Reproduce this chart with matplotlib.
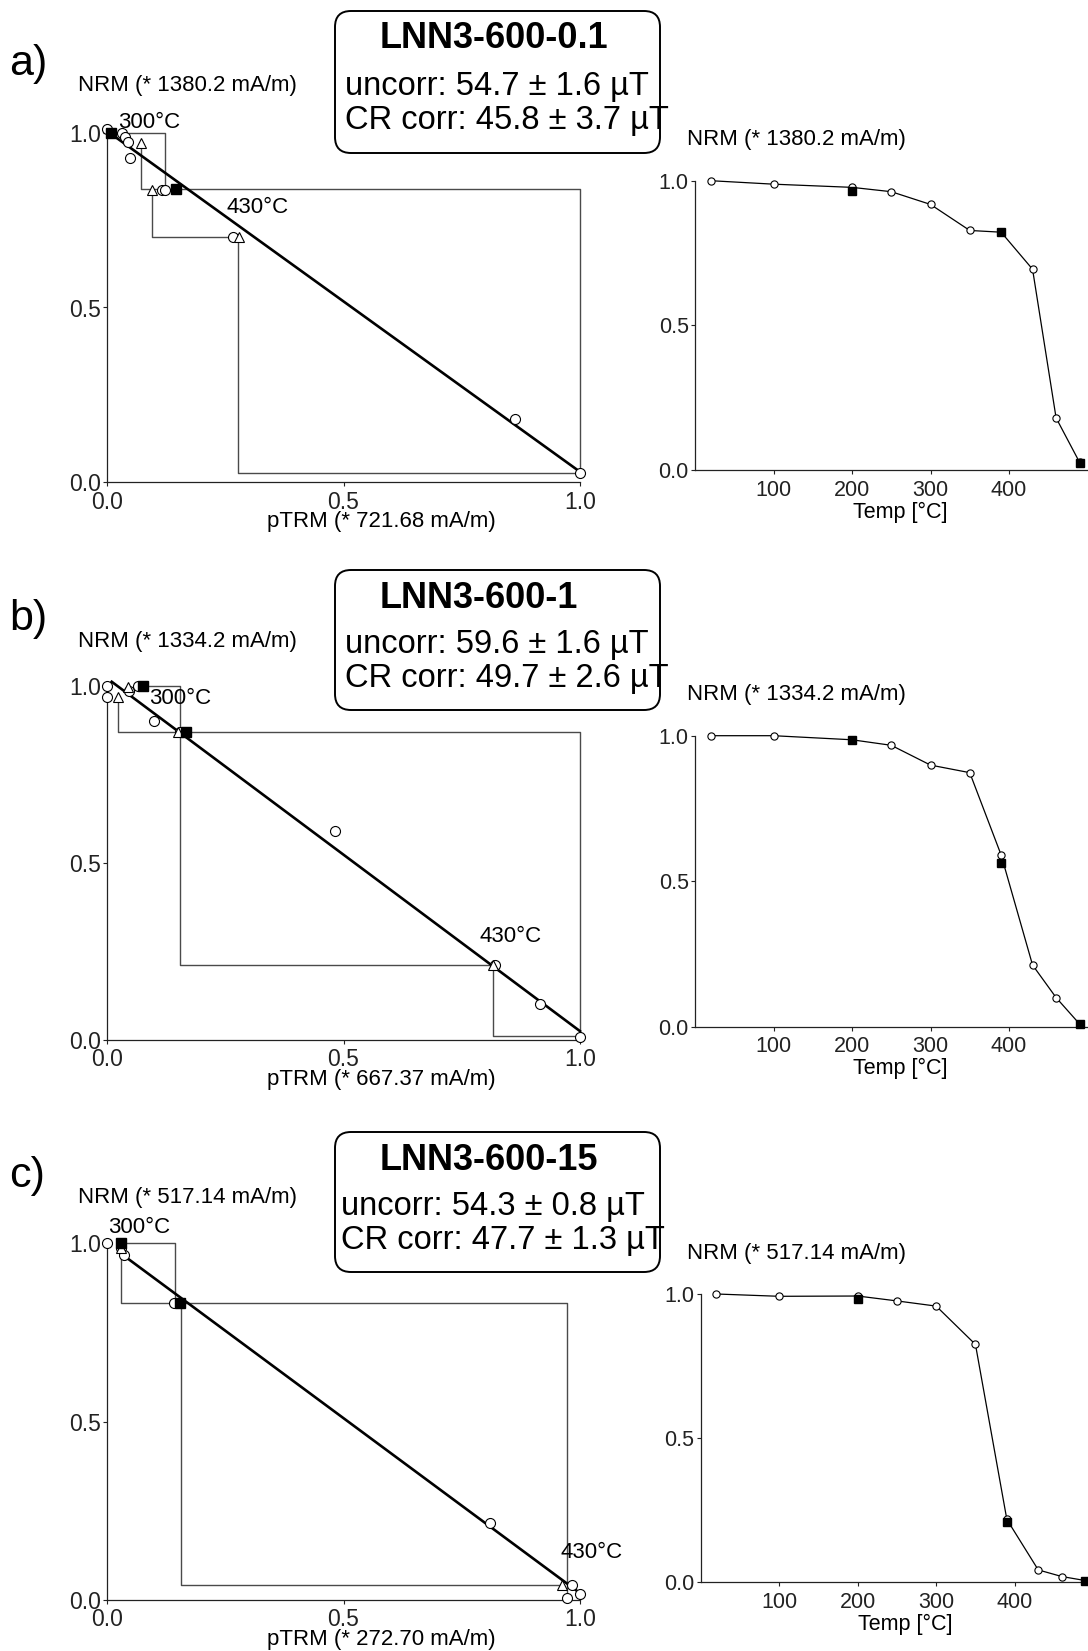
import matplotlib
matplotlib.use("Agg")
import matplotlib.pyplot as plt
from matplotlib.patches import FancyBboxPatch

plt.rcParams['font.family'] = ['Liberation Sans', 'DejaVu Sans']

W, H = 1088, 1651

# ---------------- data ----------------
temps = [20, 100, 200, 250, 300, 350, 390, 430, 460, 490]
check_temps = [200, 390, 490]

# a) LNN3-600-0.1
a_name = "LNN3-600-0.1"
a_uncorr = "uncorr: 54.7 \u00b1 1.6 \u00b5T"
a_crcorr = "CR corr: 45.8 \u00b1 3.7 \u00b5T"
a_nrm_unit = "NRM (* 1380.2 mA/m)"
a_ptrm_unit = "pTRM (* 721.68 mA/m)"
a_circ_x = [0.0, 0.031, 0.037, 0.044, 0.049, 0.116, 0.123, 0.266, 0.863, 1.0]
a_circ_y = [1.012, 0.998, 0.987, 0.974, 0.928, 0.836, 0.836, 0.703, 0.180, 0.026]
a_tri_x = [0.072, 0.096, 0.279]
a_tri_y = [0.971, 0.836, 0.703]
a_sq_x = [0.008, 0.146]
a_sq_y = [1.0, 0.838]
a_checks = [
    ([0.008, 0.123, 0.123], [1.0, 1.0, 0.838]),
    ([0.072, 0.072, 1.0, 1.0], [0.971, 0.838, 0.838, 0.026]),
    ([0.096, 0.096, 0.277, 0.277, 1.0], [0.836, 0.703, 0.703, 0.026, 0.026]),
]
a_fit_x = [0.003, 1.0]
a_fit_y = [1.002, 0.030]
a_demag = [1.0, 0.988, 0.977, 0.962, 0.918, 0.828, 0.822, 0.694, 0.180, 0.026]
a_demag_chk = [0.964, 0.821, 0.025]

# b) LNN3-600-1
b_name = "LNN3-600-1"
b_uncorr = "uncorr: 59.6 \u00b1 1.6 \u00b5T"
b_crcorr = "CR corr: 49.7 \u00b1 2.6 \u00b5T"
b_nrm_unit = "NRM (* 1334.2 mA/m)"
b_ptrm_unit = "pTRM (* 667.37 mA/m)"
b_circ_x = [0.0, 0.0, 0.046, 0.066, 0.099, 0.155, 0.481, 0.821, 0.915, 1.0]
b_circ_y = [1.0, 0.968, 0.987, 1.0, 0.900, 0.871, 0.589, 0.212, 0.102, 0.009]
b_tri_x = [0.023, 0.045, 0.150, 0.816]
b_tri_y = [0.968, 0.998, 0.871, 0.212]
b_sq_x = [0.077, 0.167]
b_sq_y = [1.0, 0.871]
b_checks = [
    ([0.066, 0.155, 0.155, 0.816], [1.0, 1.0, 0.212, 0.212]),
    ([0.023, 0.023, 1.0, 1.0], [0.968, 0.871, 0.871, 0.009]),
    ([0.817, 0.817, 1.0], [0.212, 0.010, 0.010]),
]
b_fit_x = [0.010, 1.0]
b_fit_y = [1.012, 0.025]
b_demag = [1.0, 1.0, 0.986, 0.967, 0.899, 0.873, 0.590, 0.212, 0.100, 0.009]
b_demag_chk = [0.986, 0.562, 0.009]

# c) LNN3-600-15
c_name = "LNN3-600-15"
c_uncorr = "uncorr: 54.3 \u00b1 0.8 \u00b5T"
c_crcorr = "CR corr: 47.7 \u00b1 1.3 \u00b5T"
c_nrm_unit = "NRM (* 517.14 mA/m)"
c_ptrm_unit = "pTRM (* 272.70 mA/m)"
c_circ_x = [0.0, 0.029, 0.035, 0.142, 0.809, 0.984, 1.0, 0.973]
c_circ_y = [1.0, 0.985, 0.965, 0.831, 0.216, 0.043, 0.018, 0.005]
c_tri_x = [0.029, 0.962]
c_tri_y = [0.985, 0.043]
c_sq_x = [0.029, 0.154]
c_sq_y = [1.0, 0.831]
c_checks = [
    ([0.029, 0.144, 0.144], [1.0, 1.0, 0.831]),
    ([0.029, 0.029, 0.973, 0.973], [0.985, 0.831, 0.831, 0.005]),
    ([0.156, 0.156, 0.962], [0.831, 0.043, 0.043]),
]
c_fit_x = [0.027, 0.991]
c_fit_y = [0.973, 0.028]
c_demag = [1.0, 0.992, 0.993, 0.976, 0.958, 0.825, 0.218, 0.043, 0.020, 0.006]
c_demag_chk = [0.983, 0.210, 0.006]

temp_labels = ["300\u00b0C", "430\u00b0C"]
# label anchor points (data coords of the Arai plot)
a_lab_pos = [(0.0235, 1.030), (0.253, 0.786)]
b_lab_pos = [(0.089, 0.966), (0.787, 0.292)]
c_lab_pos = [(0.003, 1.043), (0.958, 0.133)]

panels = [
    dict(letter="a)", name=a_name, uncorr=a_uncorr, crcorr=a_crcorr, nrm=a_nrm_unit, ptrm=a_ptrm_unit,
         cx=a_circ_x, cy=a_circ_y, tx=a_tri_x, ty=a_tri_y, sx=a_sq_x, sy=a_sq_y, checks=a_checks,
         fx=a_fit_x, fy=a_fit_y, demag=a_demag, dchk=a_demag_chk, labs=a_lab_pos),
    dict(letter="b)", name=b_name, uncorr=b_uncorr, crcorr=b_crcorr, nrm=b_nrm_unit, ptrm=b_ptrm_unit,
         cx=b_circ_x, cy=b_circ_y, tx=b_tri_x, ty=b_tri_y, sx=b_sq_x, sy=b_sq_y, checks=b_checks,
         fx=b_fit_x, fy=b_fit_y, demag=b_demag, dchk=b_demag_chk, labs=b_lab_pos),
    dict(letter="c)", name=c_name, uncorr=c_uncorr, crcorr=c_crcorr, nrm=c_nrm_unit, ptrm=c_ptrm_unit,
         cx=c_circ_x, cy=c_circ_y, tx=c_tri_x, ty=c_tri_y, sx=c_sq_x, sy=c_sq_y, checks=c_checks,
         fx=c_fit_x, fy=c_fit_y, demag=c_demag, dchk=c_demag_chk, labs=c_lab_pos),
]

# ---------------- layout (pixels) ----------------
# arai: left, right, top(1.0), bottom(0.0); thermal likewise
arai_box = [(107, 580, 132.7, 482.3), (107, 580, 686, 1040), (107, 580, 1243, 1600)]
therm_box = [(695, 1087.5, 180.7, 470), (695, 1087.5, 735.7, 1026.7), (700.7, 1093.2, 1294, 1582.3)]
dy = [0, 555, 1112]   # vertical offsets of text blocks per panel

fig = plt.figure(figsize=(W / 100, H / 100), dpi=100)


def add_px(l, r, t, b):
    return fig.add_axes([l / W, 1 - b / H, (r - l) / W, (b - t) / H])


def style(ax, fs):
    for s in ["top", "right"]:
        ax.spines[s].set_visible(False)
    for s in ["left", "bottom"]:
        ax.spines[s].set_linewidth(0.9)
        ax.spines[s].set_color("#222222")
    ax.tick_params(direction="out", length=3, width=0.8, pad=1.5, labelsize=fs, colors="#222222")
    ax.patch.set_alpha(0)


for i, p in enumerate(panels):
    # ---- Arai plot ----
    ax = add_px(*arai_box[i])
    ax.set_xlim(0, 1)
    ax.set_ylim(0, 1)
    style(ax, 16.5)
    ax.set_xticks([0, 0.5, 1.0])
    ax.set_xticklabels(["0.0", "0.5", "1.0"])
    ax.set_yticks([0, 0.5, 1.0])
    ax.set_yticklabels(["0.0", "0.5", "1.0"])
    ax.tick_params(axis="x", pad=3)
    for xs, ys in p["checks"]:
        ax.plot(xs, ys, color="#4a4a4a", lw=1.0, clip_on=False, zorder=2)
    ax.plot(p["fx"], p["fy"], color="black", lw=1.9, clip_on=False, zorder=3)
    ax.plot(p["cx"], p["cy"], "o", ms=7.2, mfc="white", mec="black", mew=0.8, clip_on=False, zorder=4)
    ax.plot(p["tx"], p["ty"], "^", ms=7.5, mfc="white", mec="black", mew=0.8, clip_on=False, zorder=4)
    ax.plot(p["sx"], p["sy"], "s", ms=7.0, mfc="black", mec="black", clip_on=False, zorder=5)
    for lab, (lx, ly) in zip(temp_labels, p["labs"]):
        ax.text(lx, ly, lab, fontsize=16, ha="left", va="center", zorder=6)

    # ---- thermal demagnetisation ----
    tx = add_px(*therm_box[i])
    tx.set_xlim(0, 500)
    tx.set_ylim(0, 1)
    style(tx, 15.5)
    tx.set_xticks([100, 200, 300, 400])
    tx.set_yticks([0, 0.5, 1.0])
    tx.set_yticklabels(["0.0", "0.5", "1.0"])
    tx.tick_params(axis="x", pad=4)
    tx.plot(temps, p["demag"], "-o", color="black", lw=0.9, ms=5.2, mfc="white", mec="black",
            mew=0.8, clip_on=False, zorder=3)
    tx.plot(check_temps, p["dchk"], "s", ms=6.2, color="black", clip_on=False, zorder=4)

# ---------------- overlay for text & boxes ----------------
ov = fig.add_axes([0, 0, 1, 1])
ov.set_xlim(0, W)
ov.set_ylim(H, 0)
ov.axis("off")
ov.patch.set_alpha(0)

for i, p in enumerate(panels):
    o = dy[i]
    ov.text(9, 64 + o, p["letter"], fontsize=31, ha="left", va="center")
    ov.text(78, 86 + o, p["nrm"], fontsize=16, ha="left", va="center")
    ov.text(381, arai_box[i][3] + 39, p["ptrm"], fontsize=16, ha="center", va="center")
    ov.text(687, therm_box[i][2] - 41, p["nrm"], fontsize=16, ha="left", va="center")
    ov.text(therm_box[i][0] + 205, therm_box[i][3] + 42, "Temp [\u00b0C]", fontsize=15.5,
            ha="center", va="center")
    top = [11, 570, 1132][i]
    bot = [153, 710, 1272][i]
    box = FancyBboxPatch((335, top), 325, bot - top, boxstyle="round,pad=0,rounding_size=16",
                         fc="white", ec="black", lw=1.4)
    ov.add_patch(box)
    ov.text(380, top + 28, p["name"], fontsize=26, fontweight="bold", ha="left", va="center")
    ov.text(345 if i < 2 else 341, top + 75, p["uncorr"], fontsize=23.5, ha="left", va="center")
    ov.text(345 if i < 2 else 341, top + 109, p["crcorr"], fontsize=23.5, ha="left", va="center")

fig.savefig("out.png", dpi=100)
